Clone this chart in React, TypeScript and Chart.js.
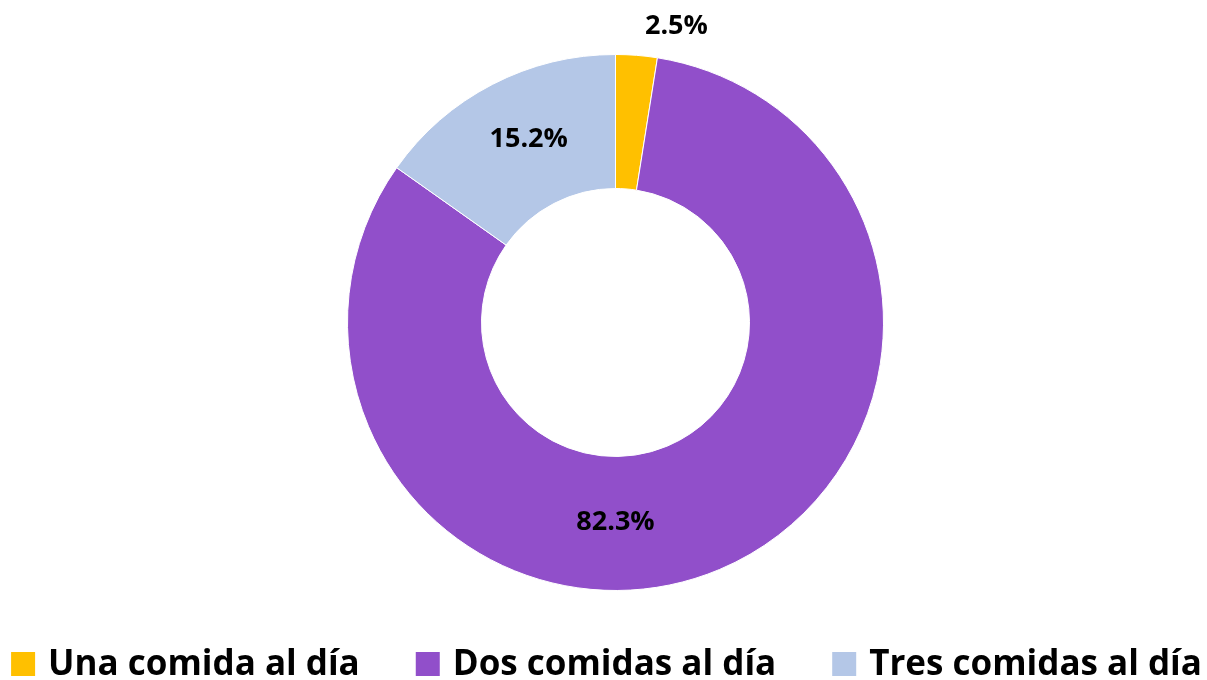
import React, { useEffect, useRef } from "react";
import { Chart, registerables } from "chart.js";

Chart.register(...registerables);

const categories = ["Una comida al día", "Dos comidas al día", "Tres comidas al día"];
const values = [2.5, 82.3, 15.2];
const valueLabels = ["2.5%", "82.3%", "15.2%"];
const colors = ["#FFC000", "#914FCA", "#B4C7E7"];
// label placement: angle (degrees clockwise from top) and radial factor (0 = inner, 1 = outer edge)
const labelAngles = [11.6, 180, 334.6];
const labelRadial = [1.26, 0.49, 0.51];

const FONT = "'Open Sans', sans-serif";

const labelPlugin = {
  id: "sliceLabels",
  afterDatasetsDraw(chart: any) {
    const meta = chart.getDatasetMeta(0);
    const ctx = chart.ctx;
    ctx.save();
    ctx.font = `bold 27px ${FONT}`;
    ctx.fillStyle = "#000";
    ctx.textAlign = "center";
    ctx.textBaseline = "middle";
    meta.data.forEach((arc: any, i: number) => {
      const a = (labelAngles[i] * Math.PI) / 180;
      const r = arc.innerRadius + labelRadial[i] * (arc.outerRadius - arc.innerRadius);
      const x = arc.x + Math.sin(a) * r;
      const y = arc.y - Math.cos(a) * r;
      ctx.fillText(valueLabels[i], x, y);
    });
    ctx.restore();
  },
};

// bottom legend drawn from the chart's own labels and colours
const legendPlugin = {
  id: "bottomLegend",
  afterDraw(chart: any) {
    const ctx = chart.ctx;
    const labels: string[] = chart.data.labels;
    const bg: string[] = chart.data.datasets[0].backgroundColor;
    const box = 24;
    const gap = 13;
    const itemGap = 56;
    ctx.save();
    ctx.font = `bold 35px ${FONT}`;
    const widths = labels.map((l) => box + gap + ctx.measureText(l).width);
    const total = widths.reduce((a, b) => a + b, 0) + itemGap * (labels.length - 1);
    let x = (chart.width - total) / 2 + 3;
    const baseline = chart.height - 5;
    labels.forEach((l, i) => {
      ctx.fillStyle = bg[i];
      ctx.fillRect(x, baseline - 23, box, box);
      ctx.fillStyle = "#000";
      ctx.textAlign = "left";
      ctx.textBaseline = "alphabetic";
      ctx.fillText(l, x + box + gap, baseline);
      x += widths[i] + itemGap;
    });
    ctx.restore();
  },
};

export default function App() {
  const ref = useRef<HTMLCanvasElement>(null);
  useEffect(() => {
    document.body.style.margin = "0";
    const chart = new Chart(ref.current!, {
      type: "doughnut",
      data: {
        labels: categories,
        datasets: [
          {
            data: values,
            backgroundColor: colors,
            borderColor: "#ffffff",
            borderWidth: 1,
          },
        ],
      },
      options: {
        animation: false,
        responsive: false,
        maintainAspectRatio: false,
        cutout: "50%",
        layout: { padding: { top: 54, bottom: 89, left: 24, right: 0 } },
        plugins: {
          tooltip: { enabled: false },
          legend: { display: false },
        },
      },
      plugins: [labelPlugin, legendPlugin],
    });
    return () => chart.destroy();
  }, []);
  return (
    <div style={{ width: 1207, height: 680, background: "#fff" }}>
      <canvas ref={ref} width={1207} height={680} style={{ display: "block" }} />
    </div>
  );
}
